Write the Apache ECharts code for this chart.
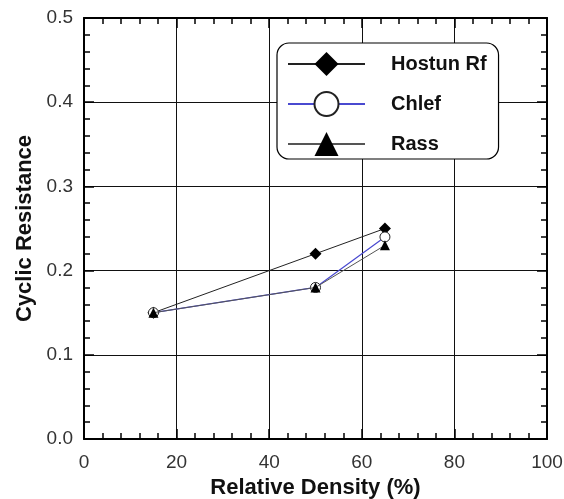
<!DOCTYPE html>
<html>
<head>
<meta charset="utf-8">
<script src="https://cdn.jsdelivr.net/npm/echarts@6/dist/echarts.min.js"></script>
<style>
  html, body { margin: 0; padding: 0; background: #fff; }
  #chart { width: 564px; height: 499px; }
</style>
</head>
<body>
<div id="chart"></div>
<script>
// Relative density (%) of the tested specimens
const densities = [15, 50, 65];
// Cyclic resistance per sand
const hostunRf = [0.15, 0.22, 0.25];
const chlef = [0.15, 0.18, 0.24];
const rass = [0.15, 0.18, 0.23];

const pairs = ys => densities.map((x, i) => [x, ys[i]]);

const font = 'Arial, "Liberation Sans", sans-serif';

const baseAxis = {
  axisLine: { show: true, onZero: false, lineStyle: { color: '#000', width: 2 } },
  axisTick: { show: true, inside: true, length: 10, lineStyle: { color: '#000', width: 1.5 } },
  minorTick: { show: true, splitNumber: 5, length: 6, lineStyle: { color: '#000', width: 1.5 } },
  splitLine: { show: false },
  minorSplitLine: { show: false }
};

const chart = echarts.init(document.getElementById('chart'), null, { renderer: 'canvas' });

chart.setOption({
  animation: false,
  backgroundColor: '#fff',
  grid: { left: 84, right: 17, top: 18, bottom: 60, containLabel: false, outerBoundsMode: 'none' },
  legend: {
    orient: 'vertical',
    left: 277,
    top: 43,
    padding: [9, 12, 3, 10],
    itemGap: 15,
    itemWidth: 77,
    itemHeight: 30,
    borderColor: '#000',
    borderWidth: 1.2,
    borderRadius: 12,
    backgroundColor: '#fff',
    textStyle: { fontFamily: font, fontSize: 20, fontWeight: 'bold', color: '#111', padding: [0, 0, 0, 21] },
    data: ['Hostun Rf', 'Chlef', 'Rass']
  },
  xAxis: [
    Object.assign({}, baseAxis, {
      type: 'value', min: 0, max: 100, interval: 20, position: 'bottom',
      splitLine: { show: true, lineStyle: { color: '#111', width: 1 } },
      axisLabel: { fontFamily: font, fontSize: 19, color: '#333', margin: 14 },
      name: 'Relative Density (%)', nameLocation: 'middle', nameGap: 37,
      nameTextStyle: { fontFamily: font, fontSize: 22, fontWeight: 'bold', color: '#111' }
    }),
    Object.assign({}, baseAxis, {
      type: 'value', min: 0, max: 100, interval: 20, position: 'top',
      axisLabel: { show: false }
    })
  ],
  yAxis: [
    Object.assign({}, baseAxis, {
      type: 'value', min: 0, max: 0.5, interval: 0.1, position: 'left',
      splitLine: { show: true, lineStyle: { color: '#111', width: 1 } },
      axisLabel: { fontFamily: font, fontSize: 19, color: '#333', margin: 11, formatter: v => v.toFixed(1) },
      name: 'Cyclic Resistance', nameLocation: 'middle', nameGap: 42, nameRotate: 90,
      nameTextStyle: { fontFamily: font, fontSize: 22, fontWeight: 'bold', color: '#111' }
    }),
    Object.assign({}, baseAxis, {
      type: 'value', min: 0, max: 0.5, interval: 0.1, position: 'right',
      axisLabel: { show: false }
    })
  ],
  series: [
    {
      name: 'Hostun Rf', type: 'line', data: pairs(hostunRf),
      symbol: 'diamond', symbolSize: 12,
      lineStyle: { color: '#222', width: 1 },
      itemStyle: { color: '#000', borderColor: '#000', borderWidth: 0 },
      z: 3
    },
    {
      name: 'Chlef', type: 'line', data: pairs(chlef),
      symbol: 'circle', symbolSize: 10,
      showAllSymbol: true,
      lineStyle: { color: '#4a4ad0', width: 1.2 },
      itemStyle: { color: '#fff', borderColor: '#222', borderWidth: 1 },
      z: 4
    },
    {
      name: 'Rass', type: 'line', data: pairs(rass),
      symbol: 'triangle', symbolSize: 10,
      lineStyle: { color: '#555', width: 1 },
      itemStyle: { color: '#000', borderColor: '#000', borderWidth: 0 },
      z: 5
    }
  ]
});
</script>
</body>
</html>
